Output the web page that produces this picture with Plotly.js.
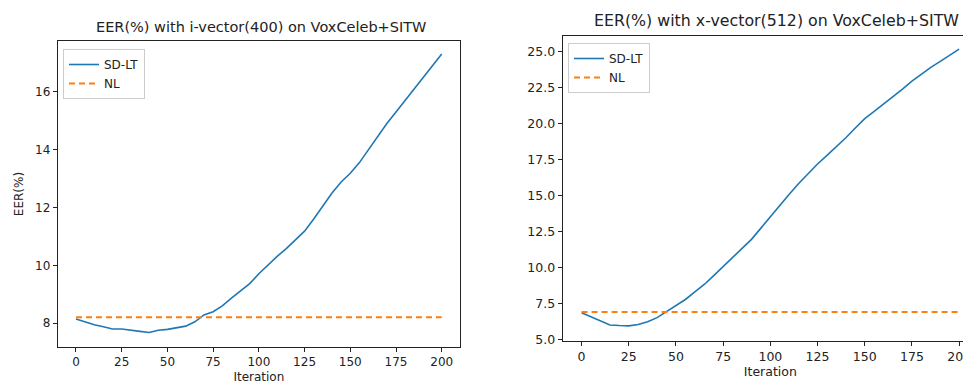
<!DOCTYPE html>
<html>
<head>
<meta charset="utf-8">
<script src="https://cdn.plot.ly/plotly-3.0.1.min.js"></script>
<style>
html,body{margin:0;padding:0;overflow:hidden;background:#fff;}
#chart{width:990px;height:388px;}
</style>
</head>
<body>
<div id="chart"></div>
<script>
// Iterations (shared x values)
const iterations = [0,5,10,15,20,25,30,35,40,45,50,55,60,65,70,75,80,85,90,95,100,
  105,110,115,120,125,130,135,140,145,150,155,160,165,170,175,180,185,190,195,200];

// Left panel: i-vector(400)
const ivecSDLT = [8.15,8.05,7.95,7.88,7.80,7.80,7.77,7.72,7.68,7.76,7.79,7.85,7.90,8.05,8.29,8.40,8.60,8.87,9.13,9.37,9.71,
  10.02,10.31,10.58,10.87,11.18,11.60,12.05,12.50,12.88,13.18,13.55,14.00,14.45,14.90,15.30,15.70,16.08,16.47,16.88,17.30];
const ivecNL = 8.21;

// Right panel: x-vector(512)
const xvecSDLT = [6.88,6.61,6.31,6.03,5.99,5.97,6.06,6.26,6.54,6.95,7.41,7.80,8.33,8.84,9.46,10.10,10.75,11.32,11.97,12.75,13.55,
  14.35,15.10,15.85,16.55,17.20,17.80,18.40,19.02,19.70,20.35,20.85,21.35,21.85,22.40,22.95,23.45,23.90,24.32,24.75,25.17];
const xvecNL = 6.93;

const titles = ["EER(%) with i-vector(400) on VoxCeleb+SITW", "EER(%) with x-vector(512) on VoxCeleb+SITW"];
const seriesNames = ["SD-LT", "NL"];
const xTicks = [0,25,50,75,100,125,150,175,200];
const leftYTicks = [8,10,12,14,16];
const rightYTicks = [5,7.5,10,12.5,15,17.5,20,22.5,25];

const BLUE = '#1f77b4', ORANGE = '#ff7f0e';
const FONT = 'DejaVu Sans, sans-serif';
const nlLeft = iterations.map(() => ivecNL);
const nlRight = iterations.map(() => xvecNL);

const traces = [
  {x: iterations, y: ivecSDLT, name: seriesNames[0], mode: 'lines', line: {color: BLUE, width: 1.6}, xaxis: 'x', yaxis: 'y', legend: 'legend'},
  {x: iterations, y: nlLeft, name: seriesNames[1], mode: 'lines', line: {color: ORANGE, width: 2, dash: '6px,4px'}, xaxis: 'x', yaxis: 'y', legend: 'legend'},
  {x: iterations, y: xvecSDLT, name: seriesNames[0], mode: 'lines', line: {color: BLUE, width: 1.6}, xaxis: 'x2', yaxis: 'y2', legend: 'legend2'},
  {x: iterations, y: nlRight, name: seriesNames[1], mode: 'lines', line: {color: ORANGE, width: 2, dash: '6px,4px'}, xaxis: 'x2', yaxis: 'y2', legend: 'legend2'}
];

const W = 990, H = 388;
const axBase = {
  showline: true, mirror: true, linecolor: '#222', linewidth: 1,
  ticks: 'outside', ticklen: 4, tickcolor: '#222', tickwidth: 1,
  showgrid: false, zeroline: false,
  tickfont: {family: FONT, size: 12, color: '#222'}
};

const legBase = {
  bgcolor: 'rgba(255,255,255,0.8)', bordercolor: '#ccc', borderwidth: 1,
  font: {family: FONT, size: 12, color: '#222'}, xanchor: 'left', yanchor: 'top',
  tracegroupgap: 0
};

const layout = {
  width: W, height: H,
  margin: {l: 0, r: 0, t: 0, b: 0},
  paper_bgcolor: '#fff', plot_bgcolor: '#fff',
  showlegend: true,
  xaxis: Object.assign({}, axBase, {domain: [57.7/W, 460/W], range: [-10, 210], tickvals: xTicks, anchor: 'y',
    title: {text: 'Iteration', font: {family: FONT, size: 12, color: '#222'}, standoff: 4}}),
  yaxis: Object.assign({}, axBase, {domain: [1-347/H, 1-41/H], range: [7.18, 17.75], tickvals: leftYTicks, anchor: 'x',
    title: {text: 'EER(%)', font: {family: FONT, size: 12, color: '#222'}, standoff: 8}}),
  xaxis2: Object.assign({}, axBase, {domain: [562.7/W, 978/W], range: [-10, 210], tickvals: xTicks, anchor: 'y2',
    tickfont: {family: FONT, size: 12.5, color: '#222'},
    title: {text: 'Iteration', font: {family: FONT, size: 12.5, color: '#222'}, standoff: 3}}),
  yaxis2: Object.assign({}, axBase, {domain: [1-340.7/H, 1-36/H], range: [4.94, 26.08], tickvals: rightYTicks, tickformat: '.1f', anchor: 'x2',
    tickfont: {family: FONT, size: 12.5, color: '#222'}}),
  legend: Object.assign({}, legBase, {x: 63/W, y: 1-49/H}),
  legend2: Object.assign({}, legBase, {x: 568/W, y: 1-43/H}),
  annotations: [
    {text: titles[0], x: 260.8/W, y: 1-27/H, xref: 'paper', yref: 'paper', showarrow: false, xanchor: 'center', yanchor: 'middle',
      font: {family: FONT, size: 14.5, color: '#222'}},
    {text: titles[1], x: 776.5/W, y: 1-20/H, xref: 'paper', yref: 'paper', showarrow: false, xanchor: 'center', yanchor: 'middle',
      font: {family: FONT, size: 15.8, color: '#222'}}
  ]
};

Plotly.newPlot('chart', traces, layout, {displayModeBar: false, responsive: false});
</script>
</body>
</html>
